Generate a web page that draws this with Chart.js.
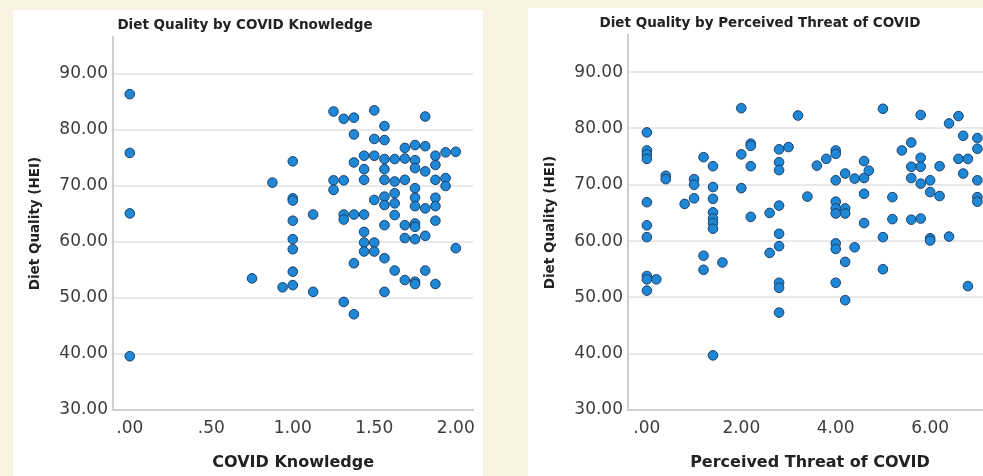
<!DOCTYPE html>
<html>
<head>
<meta charset="utf-8">
<script src="https://cdn.jsdelivr.net/npm/chart.js@4"></script>
<style>
    html, body { margin: 0; padding: 0; }
    body { width: 983px; height: 476px; overflow: hidden; background: #fbf3e1; position: relative; }
    .panel { position: absolute; background: #ffffff; }
    #panel-knowledge { left: 13px; top: 10px; width: 470px; height: 466px; }
    #panel-threat { left: 528px; top: 8px; width: 470px; height: 468px; }
</style>
</head>
<body>
<div class="panel" id="panel-knowledge"><canvas id="chart-knowledge" width="470" height="466"></canvas></div>
<div class="panel" id="panel-threat"><canvas id="chart-threat" width="470" height="468"></canvas></div>
<script>
// y ticks shared by both plots
const heiTicks = [30, 40, 50, 60, 70, 80, 90];

// COVID knowledge levels and HEI values observed at each level
const knowledgeLevels = [0, 0.75, 0.875, 0.9375, 1.0, 1.125, 1.25, 1.3125, 1.375, 1.4375, 1.5, 1.5625, 1.625, 1.6875, 1.75, 1.8125, 1.875, 1.9375, 2.0];
const knowledgeHEI = [
    [86.4, 75.9, 65.1, 39.6],
    [53.5],
    [70.6],
    [51.9],
    [74.4, 67.8, 67.4, 63.8, 60.5, 58.7, 54.7, 52.3],
    [64.9, 51.1],
    [83.3, 71.0, 69.3],
    [82.0, 71.0, 64.9, 64.0, 49.3],
    [82.2, 79.2, 74.2, 64.9, 56.2, 47.1],
    [75.4, 73.0, 71.1, 64.9, 61.8, 59.9, 58.3],
    [83.5, 78.4, 75.4, 67.5, 59.9, 58.3],
    [80.7, 78.2, 74.8, 73.0, 71.1, 68.1, 66.6, 63.0, 57.1, 51.1],
    [74.8, 70.8, 68.7, 66.9, 64.8, 54.9],
    [76.8, 74.9, 71.1, 63.0, 60.7, 53.2],
    [77.3, 74.6, 73.2, 69.6, 67.9, 66.4, 63.3, 62.7, 60.5, 52.9, 52.5],
    [82.4, 77.1, 72.6, 66.0, 61.1, 54.9],
    [75.4, 73.75, 71.1, 67.9, 66.4, 63.8, 52.5],
    [76.0, 71.4, 70.0],
    [76.1, 58.9]
];
const knowledgeTicks = [0, 0.5, 1.0, 1.5, 2.0];

// perceived threat levels and HEI values observed at each level
const threatLevels = [0, 0.2, 0.4, 0.8, 1.0, 1.2, 1.4, 1.6, 2.0, 2.2, 2.6, 2.8, 3.0, 3.2, 3.4, 3.6, 3.8, 4.0, 4.2, 4.4, 4.6, 4.7, 5.0, 5.2, 5.4, 5.6, 5.8, 6.0, 6.2, 6.4, 6.6, 6.7, 6.8, 7.0];
const threatHEI = [
    [79.3, 76.1, 75.4, 74.6, 66.9, 62.8, 60.7, 53.8, 53.2, 51.2],
    [53.2],
    [71.6, 71.0],
    [66.6],
    [71.0, 70.0, 67.6],
    [74.9, 57.4, 54.9],
    [73.3, 69.6, 67.5, 65.1, 64.0, 63.2, 62.2, 39.7],
    [56.2],
    [83.6, 75.4, 69.4],
    [77.3, 76.9, 73.3, 64.3],
    [65.0, 57.9],
    [76.3, 74.0, 72.6, 66.3, 61.3, 59.1, 52.6, 51.7, 47.3],
    [76.7],
    [82.3],
    [67.9],
    [73.4],
    [74.6],
    [76.1, 75.5, 70.8, 67.0, 65.8, 64.9, 59.6, 58.6, 52.6],
    [72.0, 65.8, 64.9, 56.3, 49.5],
    [71.1, 58.9],
    [74.2, 71.2, 68.4, 63.2],
    [72.5],
    [83.5, 60.7, 55.0],
    [67.8, 63.9],
    [76.1],
    [77.5, 73.2, 71.2, 63.8],
    [82.4, 74.8, 73.2, 70.2, 64.0],
    [70.8, 68.7, 60.5, 60.1],
    [73.3, 68.0],
    [80.9, 60.8],
    [82.2, 74.6],
    [78.7, 72.0],
    [74.6, 52.0],
    [78.3, 76.4, 70.8, 67.8, 67.0]
];
const threatTicks = [0, 2, 4, 6, 8];

const FONT = 'DejaVu Sans';

function spssLabel(v) {
    const s = Number(v).toFixed(2);
    return s.startsWith('0.') ? s.slice(1) : s;
}

function toPoints(levels, values) {
    const pts = [];
    levels.forEach((lvl, i) => {
        values[i].forEach(y => pts.push({ x: lvl, y: y }));
    });
    return pts;
}

function createScatter(canvasId, title, xTitle, levels, values, xTicks, xMin, xMax) {
    const ctx = document.getElementById(canvasId);
    return new Chart(ctx, {
        type: 'scatter',
        data: {
            datasets: [{
                data: toPoints(levels, values),
                backgroundColor: '#1e88d6',
                borderColor: '#1b3f68',
                borderWidth: 1,
                pointRadius: 4.8,
                pointHoverRadius: 4.8
            }]
        },
        options: {
            responsive: false,
            animation: false,
            devicePixelRatio: 1,
            layout: { padding: { left: 0, right: 6, top: 0, bottom: 0 } },
            plugins: {
                legend: { display: false },
                tooltip: { enabled: false },
                title: {
                    display: true,
                    text: title,
                    color: '#222',
                    font: { family: FONT, size: 13.5, weight: 'bold' },
                    padding: { top: 6.9, bottom: 3.9 }
                }
            },
            scales: {
                x: {
                    type: 'linear',
                    min: xMin,
                    max: xMax,
                    afterBuildTicks: axis => { axis.ticks = xTicks.filter(v => v <= xMax).map(v => ({ value: v })); },
                    afterFit: axis => { axis.height = 66; },
                    grid: { display: false, drawTicks: false },
                    border: { display: true, color: '#cfcfcf', width: 2 },
                    ticks: {
                        color: '#3c3c3c',
                        padding: 8,
                        maxRotation: 0,
                        autoSkip: false,
                        font: { family: FONT, size: 17 },
                        callback: v => spssLabel(v)
                    },
                    title: {
                        display: true,
                        text: xTitle,
                        color: '#222',
                        font: { family: FONT, size: 16, weight: 'bold' },
                        padding: { top: 0, bottom: 4 }
                    }
                },
                y: {
                    type: 'linear',
                    min: 30,
                    max: 96.6,
                    afterBuildTicks: axis => { axis.ticks = heiTicks.map(v => ({ value: v })); },
                    afterFit: axis => { axis.width = 100; },
                    grid: { color: '#e9e9e9', lineWidth: 2, drawTicks: false },
                    border: { display: true, color: '#cfcfcf', width: 2 },
                    ticks: {
                        color: '#3c3c3c',
                        padding: 5,
                        font: { family: FONT, size: 17 },
                        callback: v => Number(v).toFixed(2)
                    },
                    title: {
                        display: true,
                        text: 'Diet Quality (HEI)',
                        color: '#222',
                        font: { family: FONT, size: 13.5, weight: 'bold' },
                        padding: { top: 14, bottom: 0 }
                    }
                }
            }
        }
    });
}

createScatter('chart-knowledge', 'Diet Quality by COVID Knowledge', 'COVID Knowledge',
    knowledgeLevels, knowledgeHEI, knowledgeTicks, -0.103, 2.108);
createScatter('chart-threat', 'Diet Quality by Perceived Threat of COVID', 'Perceived Threat of COVID',
    threatLevels, threatHEI, threatTicks, -0.40, 7.31);
</script>
</body>
</html>
